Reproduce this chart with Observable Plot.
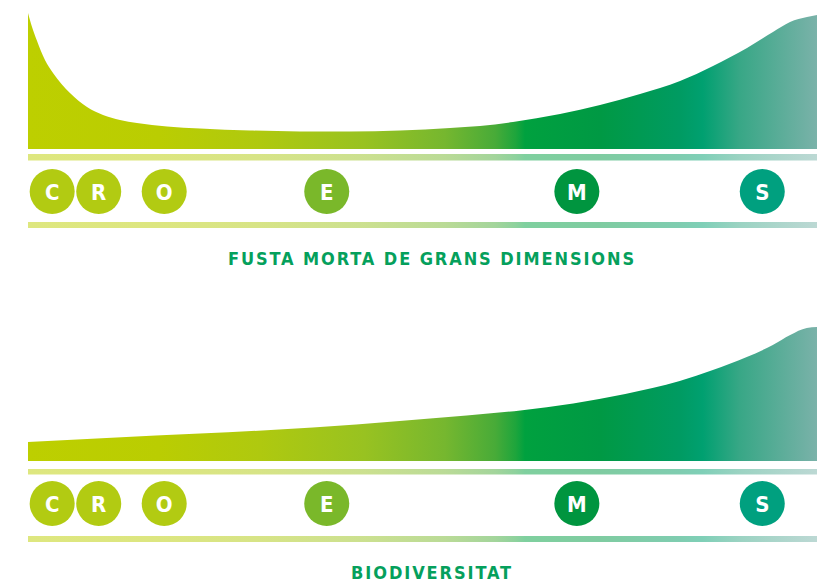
<!DOCTYPE html>
<html>
<head>
<meta charset="utf-8">
<script src="https://cdn.jsdelivr.net/npm/d3@7"></script>
<script src="https://cdn.jsdelivr.net/npm/@observablehq/plot@0.6"></script>
<style>
  html, body { margin: 0; padding: 0; background: #fff; }
  #chart { width: 817px; }
  #chart svg { display: block; }
  #chart text { font-stretch: condensed; }
</style>
</head>
<body>
<div id="chart"></div>
<script>
// Stage positions along the succession axis (0–100)
const stageLetters = ["C", "R", "O", "E", "M", "S"];
const stagePositions = [3.0, 8.9, 17.2, 37.8, 69.5, 93.0];
const stageColors = ["#b2cb12", "#b2cb12", "#b2cb12", "#7ab82a", "#00953f", "#00a07f"];

// Panel 1: large dead wood (relative amount along succession)
const deadWoodX = [0, 0.51, 1.10, 2.15, 3.17, 5.32, 7.48, 9.51, 11.66, 13.81, 17.62, 21.8, 28.14, 34.47, 40.81, 47.15, 53.49, 57.29, 61.47, 67.43, 72.5, 77.57, 82.64, 86.82, 91.13, 94.42, 96.58, 98.73, 100];
const deadWoodY = [136, 122, 109, 89, 76, 56, 42, 34, 29, 26, 22.5, 20.5, 18.5, 17.5, 17.5, 18.5, 21, 23, 27, 35, 44, 55, 68, 83, 101, 117, 127, 132, 134];

// Panel 2: biodiversity
const bioX = [0, 16.2, 21.8, 36.1, 47.1, 55.6, 62.4, 69.1, 75.7, 82.6, 86.8, 91.1, 94.4, 96.6, 98.7, 100];
const bioY = [19, 25.5, 27.5, 33.5, 40, 45.5, 50.5, 57.5, 67, 80, 91, 104, 116, 126, 133, 134];

const titles = ["FUSTA MORTA DE GRANS DIMENSIONS", "BIODIVERSITAT"];

// gradient stops (offset, colour)
const gradOffsets = [0, 0.167, 0.294, 0.427, 0.528, 0.592, 0.618, 0.63, 0.725, 0.826, 0.855, 0.902, 1];
const gradColors = ["#bdcf00", "#bacd02", "#afc90f", "#98c221", "#76b72f", "#48ab38", "#1ea53c", "#00a13f", "#009944", "#009b62", "#00a070", "#38a786", "#7ab2a9"];

const stages = stageLetters.map((l, i) => ({letter: l, x: stagePositions[i], color: stageColors[i]}));

// layout (vertical offsets below the baseline, in px units of the y scale)
const layouts = [
  {height: 312, bar1: [-5, -11.5], dots: -42, bar2: [-73, -79], title: -110},
  {height: 272, bar1: [-8, -13.5], dots: -42, bar2: [-75, -81], title: -112}
];

const FONT = "DejaVu Sans Condensed, DejaVu Sans, sans-serif";

function panel(xs, ys, title, L, id) {
  const data = xs.map((x, i) => ({x, y: ys[i]}));
  const gradId = "grad" + id;
  const defs = () => {
    const d = d3.create("svg:defs");
    const g = d.append("linearGradient").attr("id", gradId).attr("x1", 0).attr("x2", 1).attr("y1", 0).attr("y2", 0);
    gradOffsets.forEach((o, i) => g.append("stop").attr("offset", o).attr("stop-color", gradColors[i]));
    return d.node();
  };
  const svg = Plot.plot({
    width: 817,
    height: L.height,
    margin: 0,
    x: {domain: [0, 100], range: [28, 817], axis: null},
    y: {domain: [0, 134], range: [149, 15], axis: null},
    color: {type: "identity"},
    marks: [
      defs,
      Plot.areaY(data, {x: "x", y: "y", curve: "monotone-x", fill: `url(#${gradId})`}),
      Plot.rect([0], {x1: () => 0, x2: () => 100, y1: () => L.bar1[0], y2: () => L.bar1[1], fill: `url(#${gradId})`, fillOpacity: 0.5}),
      Plot.rect([0], {x1: () => 0, x2: () => 100, y1: () => L.bar2[0], y2: () => L.bar2[1], fill: `url(#${gradId})`, fillOpacity: 0.5}),
      Plot.dot(stages, {x: "x", y: () => L.dots, r: 22.5, fill: "color", stroke: null}),
      Plot.text(stages, {x: "x", y: () => L.dots, text: "letter", fill: "white", fontSize: 22, fontWeight: "bold", fontFamily: FONT, dy: 1}),
      Plot.text([title], {x: () => 51.14, y: () => L.title, text: d => d, fill: "#05a05c", fontSize: 18, fontWeight: "bold", fontFamily: FONT})
    ]
  });
  d3.select(svg).selectAll("text")
    .filter(function() { return this.textContent === title; })
    .style("letter-spacing", "1.9px");
  return svg;
}

const root = document.getElementById("chart");
root.appendChild(panel(deadWoodX, deadWoodY, titles[0], layouts[0], 1));
root.appendChild(panel(bioX, bioY, titles[1], layouts[1], 2));
</script>
</body>
</html>
